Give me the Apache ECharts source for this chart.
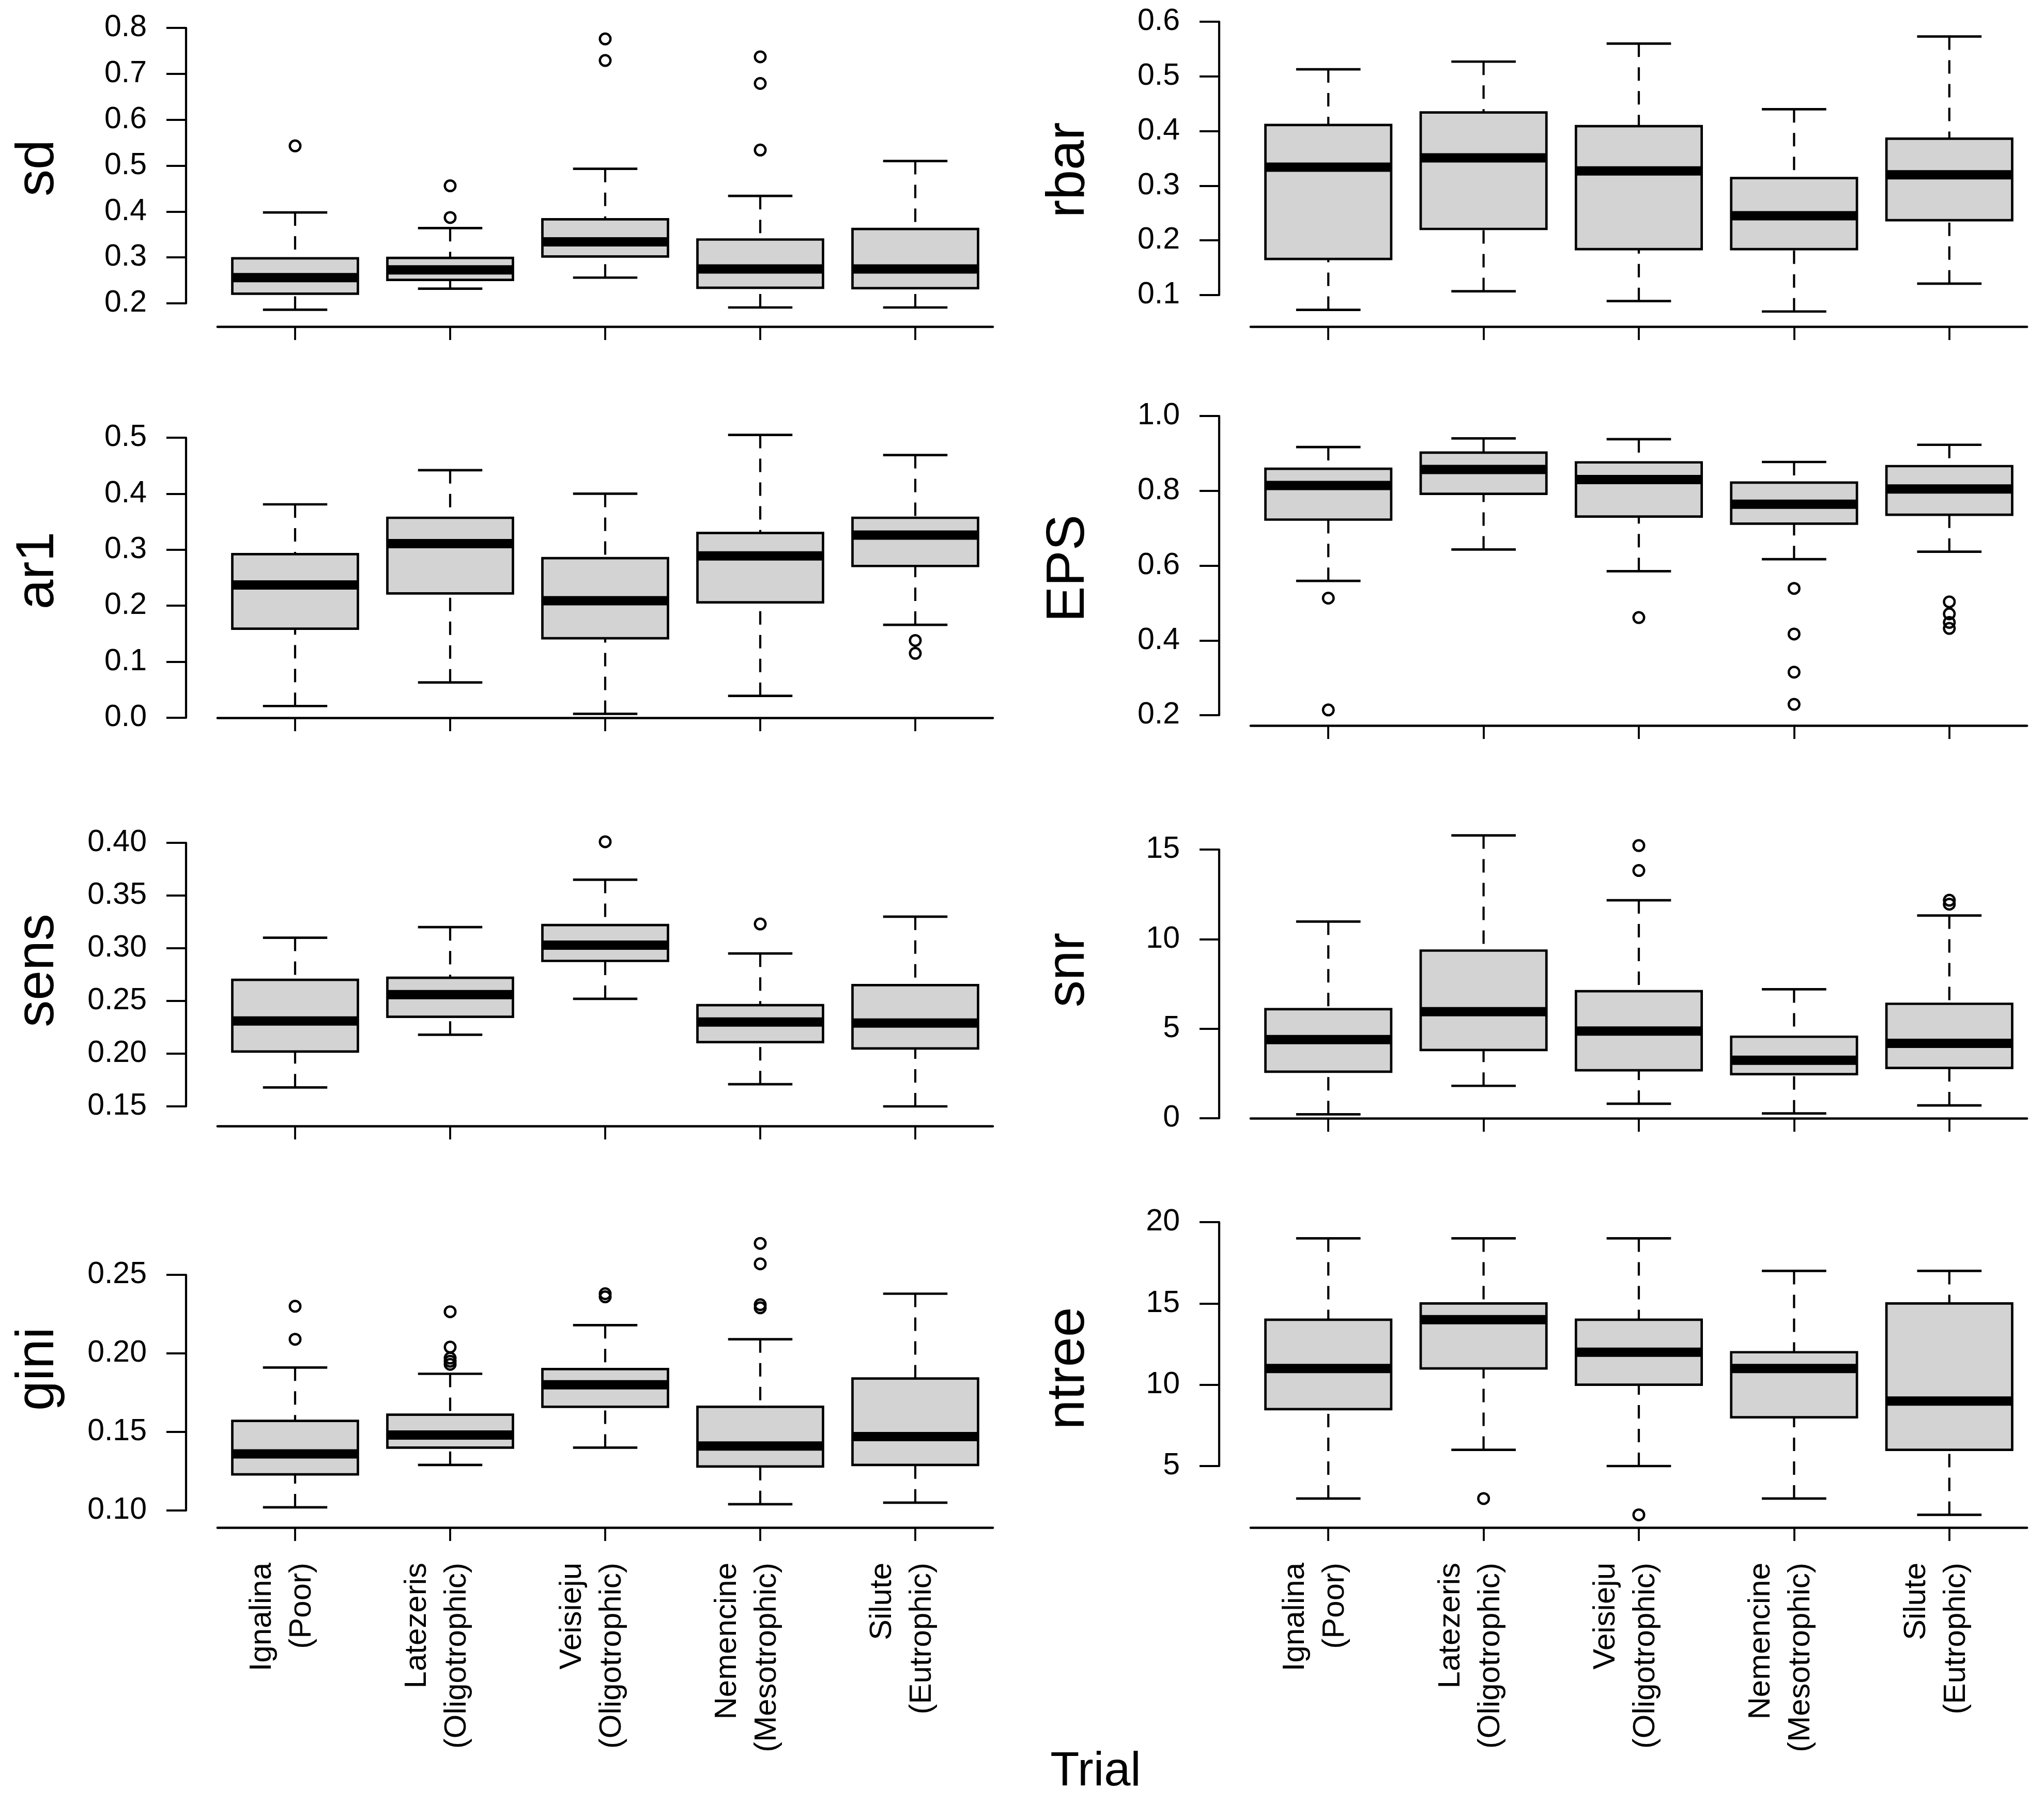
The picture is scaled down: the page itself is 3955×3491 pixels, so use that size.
<!DOCTYPE html>
<html>
<head>
<meta charset="utf-8">
<script src="https://cdn.jsdelivr.net/npm/echarts@6/dist/echarts.min.js"></script>
<style>
html,body{margin:0;padding:0;background:#fff}
#chart{width:3955px;height:3491px}
</style>
</head>
<body>
<div id="chart"></div>
<script>
var categories = ['Ignalina\n(Poor)', 'Latezeris\n(Oligotrophic)', 'Veisieju\n(Oligotrophic)',
                  'Nemencine\n(Mesotrophic)', 'Silute\n(Eutrophic)'];

// box stats per trial: [lower whisker, q1, median, q3, upper whisker]
var sdBox = [[0.186,0.221,0.256,0.298,0.398],[0.232,0.251,0.273,0.299,0.364],[0.256,0.302,0.334,0.383,0.493],
             [0.191,0.234,0.275,0.339,0.434],[0.191,0.233,0.275,0.362,0.510]];
var rbarBox = [[0.073,0.166,0.334,0.411,0.513],[0.107,0.221,0.351,0.434,0.527],[0.089,0.184,0.327,0.409,0.560],
               [0.070,0.184,0.245,0.314,0.440],[0.121,0.237,0.320,0.386,0.573]];
var ar1Box = [[0.021,0.159,0.237,0.292,0.381],[0.063,0.222,0.311,0.357,0.442],[0.007,0.142,0.209,0.285,0.400],
              [0.039,0.206,0.289,0.330,0.505],[0.166,0.271,0.326,0.357,0.469]];
var epsBox = [[0.559,0.723,0.814,0.859,0.917],[0.643,0.792,0.857,0.902,0.940],[0.585,0.731,0.830,0.876,0.938],
              [0.617,0.712,0.764,0.822,0.877],[0.637,0.736,0.805,0.866,0.923]];
var sensBox = [[0.168,0.202,0.231,0.270,0.310],[0.218,0.235,0.256,0.272,0.320],[0.252,0.288,0.303,0.322,0.365],
               [0.171,0.211,0.230,0.246,0.295],[0.150,0.205,0.229,0.265,0.330]];
var snrBox = [[0.22,2.60,4.39,6.09,10.98],[1.81,3.81,5.95,9.36,15.79],[0.81,2.68,4.87,7.09,12.17],
              [0.27,2.46,3.24,4.55,7.20],[0.72,2.81,4.18,6.39,11.32]];
var giniBox = [[0.102,0.123,0.136,0.157,0.191],[0.129,0.140,0.148,0.161,0.187],[0.140,0.166,0.180,0.190,0.218],
               [0.104,0.128,0.141,0.166,0.209],[0.105,0.129,0.147,0.184,0.238]];
var ntreeBox = [[3,8.5,11,14,19],[6,11,14,15,19],[5,10,12,14,19],[3,8,11,12,17],[2,6,9,15,17]];

// outliers: [trial index, value]
var sdOut = [[0,0.543],[1,0.456],[1,0.387],[2,0.776],[2,0.729],[3,0.737],[3,0.679],[3,0.534]];
var rbarOut = [];
var ar1Out = [[4,0.138],[4,0.115]];
var epsOut = [[0,0.513],[0,0.214],[2,0.461],[3,0.539],[3,0.417],[3,0.315],[3,0.229],
              [4,0.503],[4,0.471],[4,0.448],[4,0.432]];
var sensOut = [[2,0.401],[3,0.323]];
var snrOut = [[2,15.22],[2,13.83],[4,12.17],[4,11.95]];
var giniOut = [[0,0.230],[0,0.209],[1,0.2265],[1,0.204],[1,0.197],[1,0.195],[1,0.193],
               [2,0.238],[2,0.236],[3,0.270],[3,0.257],[3,0.231],[3,0.229]];
var ntreeOut = [[1,3],[2,2]];

var panelNames = ['sd','rbar','ar1','EPS','sens','snr','gini','ntree'];
var panelBoxes = [sdBox, rbarBox, ar1Box, epsBox, sensBox, snrBox, giniBox, ntreeBox];
var panelOut = [sdOut, rbarOut, ar1Out, epsOut, sensOut, snrOut, giniOut, ntreeOut];
// y ticks: first, last, step, decimals
var yTicks = [[0.2,0.8,0.1,1],[0.1,0.6,0.1,1],[0.0,0.5,0.1,1],[0.2,1.0,0.2,1],
              [0.15,0.40,0.05,2],[0,15,5,0],[0.10,0.25,0.05,2],[5,20,5,0]];

// layout (px): top tick, bottom tick, x axis line
var rowPx = [[54,587,632],[42,571,632],[847,1389,1405],[805,1384,1404],
             [1631,2141,2179],[1644,2164,2179],[2467,2923,2956],[2365,2837,2956]];
var colLeft = [421, 2420];
var colWidth = [1500, 1502];
var yLabY = [325, 329, 1104, 1100, 1878, 1877, 2649, 2648];
var yLabX = [74, 2068];
var W = 3955, H = 3491;
var FONT = '"Liberation Sans", Arial, sans-serif';

function boxItem(params, api) {
    var c = api.value(0);
    var p = [1,2,3,4,5].map(function (k) { return api.coord([c, api.value(k)]); });
    var cx = p[0][0];
    var band = api.size([1, 0])[0];
    var bw = band * 0.81, sw = band * 0.415;
    var dash = {stroke:'#000', lineWidth:4.2, lineDash:[26,20], fill:null};
    var solid = {stroke:'#000', lineWidth:4.7, fill:null};
    return {type:'group', children:[
        {type:'line', shape:{x1:cx,y1:p[4][1],x2:cx,y2:p[3][1]}, style:dash},
        {type:'line', shape:{x1:cx,y1:p[0][1],x2:cx,y2:p[1][1]}, style:dash},
        {type:'line', shape:{x1:cx-sw/2,y1:p[4][1],x2:cx+sw/2,y2:p[4][1]}, style:solid},
        {type:'line', shape:{x1:cx-sw/2,y1:p[0][1],x2:cx+sw/2,y2:p[0][1]}, style:solid},
        {type:'rect', shape:{x:cx-bw/2,y:p[3][1],width:bw,height:p[1][1]-p[3][1]},
         style:{fill:'#d3d3d3',stroke:'#000',lineWidth:4.7}},
        {type:'line', shape:{x1:cx-bw/2,y1:p[2][1],x2:cx+bw/2,y2:p[2][1]}, style:{stroke:'#000',lineWidth:18}}
    ]};
}

// two-line rotated labels, nudged left of the tick like R's las=2 text
function catLabel(v) {
    return v.split('\n').map(function (l) { return '{a|' + l + '}'; }).join('\n') + '\n{s| }';
}

var grids = [], xAxes = [], yAxes = [], series = [], graphics = [];
panelNames.forEach(function (name, i) {
    var col = i % 2, bottomRow = i >= 6;
    var r = rowPx[i], t = yTicks[i];
    grids.push({left: colLeft[col], width: colWidth[col], top: r[0], bottom: H - r[1],
                containLabel: false, outerBoundsMode: 'none'});
    xAxes.push({
        type: 'category', gridIndex: i, data: categories, boundaryGap: true,
        offset: r[2] - r[1],
        axisLine: {show: true, lineStyle: {color: '#000', width: 4.7}},
        axisTick: {show: true, alignWithLabel: true, length: 26, lineStyle: {color: '#000', width: 3.8}},
        axisLabel: {show: bottomRow, rotate: 90, interval: 0, margin: 68, color: '#000',
                    formatter: catLabel,
                    rich: {a: {fontSize: 60, lineHeight: 77, fontFamily: FONT, color: '#000'},
                           s: {fontSize: 10, lineHeight: 50}}},
        splitLine: {show: false}
    });
    yAxes.push({
        type: 'value', gridIndex: i, min: t[0], max: t[1], interval: t[2], offset: 61,
        axisLine: {show: true, lineStyle: {color: '#000', width: 4.2}},
        axisTick: {show: true, length: 38, lineStyle: {color: '#000', width: 4.2}},
        axisLabel: {fontSize: 59, fontFamily: FONT, color: '#000', margin: 76,
                    formatter: (function (d) { return function (v) { return v.toFixed(d); }; })(t[3])},
        splitLine: {show: false}
    });
    series.push({
        type: 'custom', xAxisIndex: i, yAxisIndex: i, renderItem: boxItem, clip: false,
        encode: {x: 0, y: [1,2,3,4,5]},
        data: panelBoxes[i].map(function (b, j) { return [j].concat(b); })
    });
    series.push({
        type: 'scatter', xAxisIndex: i, yAxisIndex: i, clip: false, symbol: 'circle', symbolSize: 20.5,
        itemStyle: {color: 'rgba(0,0,0,0)', borderColor: '#000', borderWidth: 4.5, opacity: 1},
        data: panelOut[i]
    });
    graphics.push({
        type: 'text', x: yLabX[col], y: yLabY[i], rotation: Math.PI / 2,
        style: {text: name, fontSize: 104, fontFamily: FONT, fill: '#000',
                align: 'center', verticalAlign: 'middle', textAlign: 'center', textVerticalAlign: 'middle'}
    });
});
graphics.push({
    type: 'text', x: 2120, y: 3430,
    style: {text: 'Trial', fontSize: 92, fontFamily: FONT, fill: '#000',
            align: 'center', verticalAlign: 'middle', textAlign: 'center', textVerticalAlign: 'middle'}
});

var myChart = echarts.init(document.getElementById('chart'), null, {width: W, height: H});
myChart.setOption({
    animation: false,
    backgroundColor: '#fff',
    textStyle: {fontFamily: FONT},
    grid: grids,
    xAxis: xAxes,
    yAxis: yAxes,
    series: series,
    graphic: graphics
});
</script>
</body>
</html>
